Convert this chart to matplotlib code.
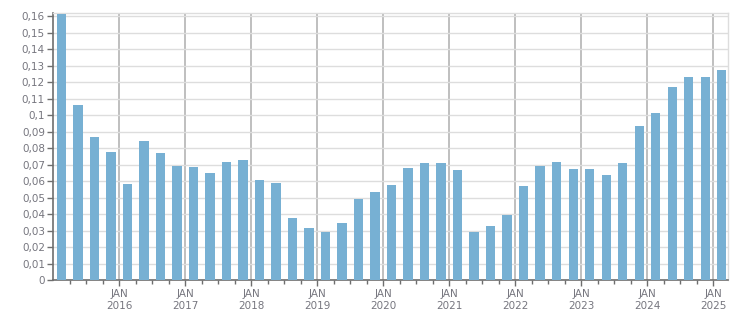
import numpy as np
import matplotlib
matplotlib.use("Agg")
import matplotlib.pyplot as plt
from matplotlib.ticker import FixedLocator, FuncFormatter

# quarterly values, 2015 Q1 .. 2025 Q1
start_year = 2015
values = [
    0.161, 0.106, 0.0867, 0.0777, 0.0583, 0.0843, 0.0771, 0.0694, 0.0686, 0.0650,
    0.0716, 0.0728, 0.0607, 0.0589, 0.0377, 0.0317, 0.0294, 0.0347, 0.0492, 0.0534,
    0.0577, 0.0680, 0.0710, 0.0710, 0.0668, 0.0294, 0.0329, 0.0395, 0.0571, 0.0692,
    0.0716, 0.0674, 0.0674, 0.0637, 0.0710, 0.0934, 0.1013, 0.1170, 0.1231, 0.1231,
    0.1273,
]
years = list(range(2016, 2026))
y_ticks = [i / 100 for i in range(0, 17)]

bar_color = "#77b0d3"
text_color = "#76767f"

x = start_year + (np.arange(len(values)) + 0.5) / 4

fig = plt.figure(figsize=(7.51, 3.13), dpi=100)
ax = fig.add_axes([0.071, 0.104, 0.8984, 0.854])

ax.bar(x, values, width=0.25 * 0.57, color=bar_color, zorder=3)

ax.set_xlim(start_year, 2025.22)
ax.set_ylim(0, 0.1618)

# y axis
ax.yaxis.set_major_locator(FixedLocator(y_ticks))
ax.yaxis.set_major_formatter(FuncFormatter(lambda v, p: f"{round(v, 2):g}".replace(".", ",")))
ax.grid(axis="y", color="#dddddd", linewidth=1, zorder=0)

# x axis: year lines + quarter ticks
ax.xaxis.set_major_locator(FixedLocator(years))
ax.xaxis.set_minor_locator(FixedLocator([start_year + q / 4 for q in range(1, 41)]))
ax.set_xticklabels([f"JAN\n{y}" for y in years])
ax.grid(axis="x", which="major", color="#b4b4b4", linewidth=1.2, zorder=0)
ax.set_axisbelow(True)

ax.tick_params(axis="both", which="both", colors="#6e6e6e", labelcolor=text_color,
               labelsize=7.5, length=4, width=1)
ax.tick_params(axis="x", which="minor", length=3)
ax.tick_params(axis="x", pad=2.5)
ax.tick_params(axis="y", pad=2)
for lbl in ax.get_xticklabels():
    lbl.set_linespacing(1.2)

for side in ["left", "bottom"]:
    ax.spines[side].set_color("#6e6e6e")
    ax.spines[side].set_linewidth(1.2)
for side in ["top", "right"]:
    ax.spines[side].set_color("#dddddd")
    ax.spines[side].set_linewidth(1)

fig.savefig("out.png", dpi=100)
